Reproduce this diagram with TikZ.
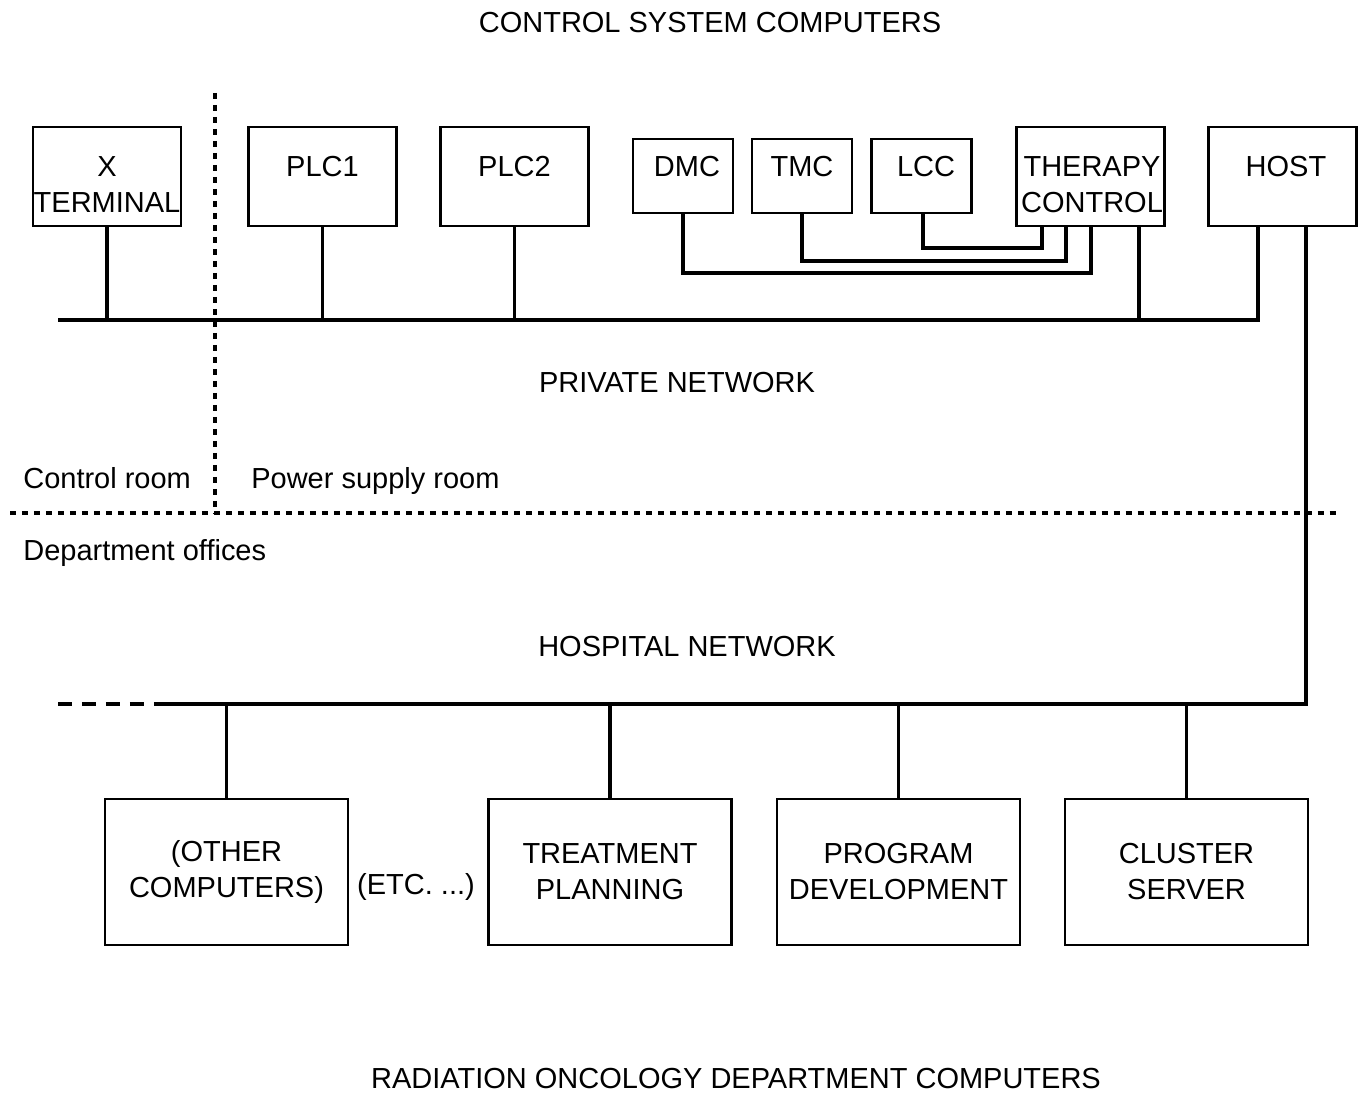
\documentclass[tikz,border=0pt]{standalone}
\usepackage{fontspec}
\setmainfont{Liberation Sans}

\begin{document}
\begin{tikzpicture}[x=0.02cm,y=-0.02cm,
	every node/.style={font=\fontsize{16.5}{20.5}\selectfont},
	unit/.style={draw,line width=1.6pt,minimum width=2.96cm,minimum height=1.98cm,inner sep=0pt},
	small unit/.style={unit,minimum width=2cm,minimum height=1.48cm},
	dept/.style={unit,minimum width=4.86cm,minimum height=2.92cm,align=center},
	room/.style={anchor=base west,inner sep=0pt},
	net/.style={line width=1.8pt},
	wall/.style={line width=2.2pt,dash pattern=on 0.12cm off 0.12cm}]
	\useasboundingbox (0,0) rectangle (1363,1094);

	% room borders
	\draw[wall] (215,93) -- (215,513);
	\draw[wall] (10,513) -- (1336,513);

	\node (top-title) at (710,23) {CONTROL SYSTEM COMPUTERS};
	\node (bot-title) at (736,1079) {RADIATION ONCOLOGY DEPARTMENT COMPUTERS};
	\node (priv-lbl) at (677,383) {PRIVATE NETWORK};
	\node (hosp-lbl) at (687,647) {HOSPITAL NETWORK};
	\node[room] (ctrl-room) at (23,489) {Control room};
	\node[room] (psu-room) at (251,489) {Power supply room};
	\node[room] (offices) at (23,561) {Department offices};

	% control system computers
	\node[unit] (xterm) at (107,176.5) {};
	\node[align=center] (xterm-txt) at (107,185) {X\\TERMINAL};
	\node[unit] (plc1) at (322.5,176.5) {};
	\node (plc1-txt) at (322.5,167) {PLC1};
	\node[unit] (plc2) at (514.5,176.5) {};
	\node (plc2-txt) at (514.5,167) {PLC2};
	\node[small unit] (dmc) at (683,176) {};
	\node (dmc-txt) at (687,167) {DMC};
	\node[small unit] (tmc) at (802,176) {};
	\node (tmc-txt) at (802,167) {TMC};
	\node[small unit] (lcc) at (921.5,176) {};
	\node (lcc-txt) at (926,167) {LCC};
	\node[unit] (therapy) at (1090.5,176.5) {};
	\node[align=center] (therapy-txt) at (1092,185) {THERAPY\\CONTROL};
	\node[unit] (host) at (1282.5,176.5) {};
	\node (host-txt) at (1286,167) {HOST};

	% private network
	\coordinate (priv-w) at (58,320);
	\coordinate (priv-e) at (1258,320);
	\coordinate (tap-ther) at (1139,320);
	\draw[net] (priv-w) -- (priv-e) -- (priv-e |- host.south);
	\draw[net] (xterm.south) -- (xterm.south |- priv-w);
	\draw[net] (plc1.south) -- (plc1.south |- priv-w);
	\draw[net] (plc2.south) -- (plc2.south |- priv-w);
	\draw[net] (tap-ther |- therapy.south) -- (tap-ther);

	% links to therapy control
	\coordinate (lcc-in) at (1042,248);
	\coordinate (tmc-in) at (1066,261);
	\coordinate (dmc-in) at (1091,273);
	\draw[net] (lcc.south -| 923,0) |- (lcc-in) -- (lcc-in |- therapy.south);
	\draw[net] (tmc.south) |- (tmc-in) -- (tmc-in |- therapy.south);
	\draw[net] (dmc.south) |- (dmc-in) -- (dmc-in |- therapy.south);

	% hospital network
	\coordinate (hosp-e) at (1306,704);
	\coordinate (hosp-w) at (154,704);
	\coordinate (hosp-end) at (58,704);
	\draw[net] (hosp-e |- host.south) -- (hosp-e) -- (hosp-w);
	\draw[net,dash pattern=on 0.28cm off 0.2cm] (hosp-end) -- (hosp-w);

	% department computers
	\node[dept] (other) at (226.5,872) {(OTHER\\COMPUTERS)};
	\node (etc) at (416,887) {(ETC. ...)};
	\node[dept] (planning) at (610,872) {TREATMENT\\PLANNING};
	\node[dept] (progdev) at (898.5,872) {PROGRAM\\DEVELOPMENT};
	\node[dept] (cluster) at (1186.5,872) {CLUSTER\\SERVER};
	\draw[net] (other.north) -- (other.north |- hosp-w);
	\draw[net] (planning.north) -- (planning.north |- hosp-w);
	\draw[net] (progdev.north) -- (progdev.north |- hosp-w);
	\draw[net] (cluster.north) -- (cluster.north |- hosp-w);
\end{tikzpicture}
\end{document}
